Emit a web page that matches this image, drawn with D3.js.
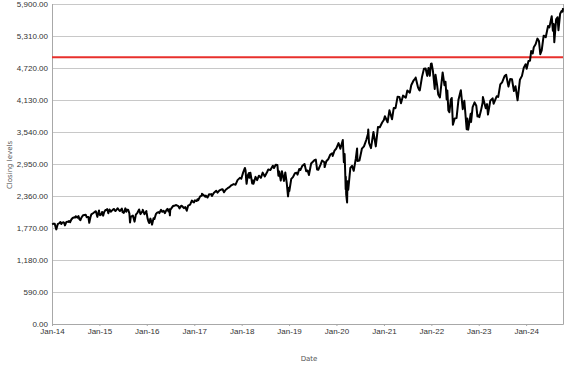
<!DOCTYPE html>
<html lang="en">
<head>
<meta charset="UTF-8" />
<title>Closing levels</title>
<style>
  body { margin: 0; background: #fff; overflow: hidden; }
  svg { display: block; font-family: "DejaVu Sans", Verdana, sans-serif; }
  .grid line { stroke: #c8c8c8; stroke-width: 1px; }
  .axis text { fill: #333; font-size: 8px; }
  .axis-title { fill: #555; font-size: 7px; }
</style>
</head>
<body>
<svg width="577" height="367"></svg>
<script src="https://d3js.org/d3.v7.min.js"></script>
<script>
// Closing levels (roughly 2-4 points a month)
const y2014 = [["01-02",1832],["01-15",1848],["01-22",1844],["01-28",1792],["02-03",1742],["02-14",1838],["02-28",1859],["03-07",1878],["03-14",1841],["03-21",1866],["03-31",1872],["04-04",1865],["04-11",1815],["04-22",1879],["04-30",1884],["05-07",1878],["05-13",1897],["05-20",1872],["05-30",1924],["06-09",1951],["06-20",1963],["06-30",1960],["07-03",1985],["07-17",1958],["07-24",1988],["07-31",1931],["08-07",1910],["08-15",1955],["08-29",2003],["09-18",2011],["09-25",1965],["09-30",1972],["10-08",1968],["10-15",1862],["10-24",1964],["10-31",2018],["11-13",2039],["11-28",2068],["12-05",2075],["12-16",1972],["12-29",2090],["12-31",2059]];
const y2015 = [["01-06",2003],["01-16",2019],["01-22",2063],["01-30",1995],["02-06",2055],["02-17",2100],["02-27",2105],["03-02",2117],["03-11",2040],["03-20",2108],["03-31",2068],["04-15",2106],["04-24",2117],["04-30",2086],["05-06",2080],["05-21",2131],["05-29",2107],["06-08",2080],["06-23",2124],["06-29",2058],["07-08",2046],["07-20",2129],["07-27",2068],["07-31",2104],["08-10",2104],["08-20",2036],["08-25",1868],["08-31",1972],["09-16",1996],["09-29",1884],["10-09",2014],["10-22",2052],["11-03",2109],["11-13",2023],["11-30",2080],["12-01",2102],["12-14",2021],["12-29",2078],["12-31",2044]];
const y2016 = [["01-07",1944],["01-15",1880],["01-20",1859],["01-29",1940],["02-11",1829],["02-22",1946],["02-29",1932],["03-11",2022],["03-21",2051],["03-31",2060],["04-07",2042],["04-20",2102],["04-29",2065],["05-10",2084],["05-19",2040],["05-31",2097],["06-08",2119],["06-16",2071],["06-23",2113],["06-27",2001],["06-30",2099],["07-11",2137],["07-22",2175],["07-29",2174],["08-15",2190],["08-31",2171],["09-09",2128],["09-22",2177],["09-30",2168],["10-13",2133],["10-24",2151],["11-04",2085],["11-15",2180],["11-30",2199],["12-13",2271],["12-30",2239]];
const y2017 = [["01-06",2277],["01-19",2264],["01-26",2297],["01-31",2279],["02-15",2350],["02-28",2364],["03-01",2396],["03-13",2373],["03-27",2342],["03-31",2363],["04-13",2329],["04-25",2389],["04-28",2384],["05-12",2391],["05-17",2357],["05-31",2412],["06-19",2453],["06-29",2419],["07-14",2459],["07-27",2475],["08-07",2480],["08-18",2425],["08-31",2472],["09-15",2500],["09-29",2519],["10-13",2553],["10-31",2575],["11-15",2565],["11-30",2648],["12-18",2690],["12-29",2674]];
const y2018 = [["01-12",2786],["01-26",2873],["01-31",2824],["02-05",2649],["02-08",2581],["02-16",2732],["02-26",2780],["03-02",2691],["03-09",2786],["03-23",2588],["03-29",2641],["04-02",2582],["04-18",2708],["04-30",2648],["05-14",2730],["05-29",2690],["06-12",2787],["06-28",2716],["07-16",2798],["07-25",2846],["08-10",2833],["08-29",2914],["09-07",2872],["09-20",2931],["10-03",2926],["10-11",2729],["10-17",2809],["10-29",2641],["11-07",2814],["11-23",2633],["12-03",2790],["12-14",2600],["12-24",2351],["12-31",2507]];
const y2019 = [["01-03",2448],["01-18",2671],["01-31",2704],["02-15",2776],["02-28",2784],["03-07",2749],["03-21",2855],["03-29",2834],["04-12",2907],["04-30",2946],["05-13",2812],["05-24",2826],["06-03",2744],["06-20",2954],["07-15",3014],["07-26",3026],["08-05",2844],["08-14",2840],["08-30",2926],["09-12",3010],["09-30",2977],["10-02",2888],["10-15",2996],["10-31",3038],["11-15",3120],["11-29",3141],["12-03",3093],["12-17",3192],["12-31",3231]];
const y2020 = [["01-17",3330],["01-31",3226],["02-19",3386],["02-27",2979],["03-04",3130],["03-09",2747],["03-12",2481],["03-13",2711],["03-16",2386],["03-23",2237],["03-26",2630],["04-01",2471],["04-17",2875],["04-30",2912],["05-13",2820],["05-29",3044],["06-08",3232],["06-11",3002],["06-26",3009],["07-15",3227],["07-31",3271],["08-18",3390],["08-31",3500],["09-02",3580],["09-08",3332],["09-23",3237],["10-12",3534],["10-30",3270],["11-16",3627],["11-30",3622],["12-18",3709],["12-31",3756]];
const y2021 = [["01-08",3825],["01-29",3714],["02-12",3934],["03-04",3768],["03-17",3974],["03-31",3973],["04-16",4185],["04-30",4181],["05-12",4063],["05-28",4204],["06-18",4166],["06-30",4298],["07-19",4258],["07-30",4395],["08-16",4479],["08-31",4523],["09-02",4537],["09-20",4358],["09-30",4308],["10-04",4300],["10-21",4549],["11-05",4697],["11-18",4704],["11-30",4567],["12-10",4712],["12-20",4568],["12-29",4793],["12-31",4766]];
const y2022 = [["01-03",4797],["01-13",4659],["01-27",4326],["02-02",4589],["02-14",4401],["02-23",4226],["03-08",4170],["03-29",4632],["04-12",4397],["04-20",4459],["04-29",4132],["05-04",4300],["05-12",3930],["05-20",3901],["05-31",4132],["06-07",4161],["06-16",3667],["06-30",3785],["07-14",3790],["07-29",4130],["08-16",4305],["08-31",3955],["09-12",4110],["09-30",3586],["10-05",3783],["10-12",3577],["10-31",3872],["11-03",3720],["11-15",3992],["11-30",4080],["12-13",4019],["12-22",3822],["12-30",3840]];
const y2023 = [["01-05",3808],["01-18",3928],["01-31",4077],["02-02",4179],["02-24",3970],["03-06",4048],["03-13",3855],["03-31",4109],["04-18",4154],["04-26",4055],["05-19",4192],["05-31",4180],["06-16",4410],["06-30",4450],["07-19",4565],["07-31",4589],["08-18",4370],["08-31",4508],["09-14",4505],["09-29",4288],["10-11",4377],["10-27",4117],["11-14",4496],["11-30",4568],["12-14",4720],["12-28",4783]];
const y2024 = [["01-05",4697],["01-19",4840],["01-31",4846],["02-09",5027],["02-21",4982],["02-29",5096],["03-14",5150],["03-28",5254],["04-09",5209],["04-19",4967],["04-30",5036],["05-15",5308],["05-31",5278],["06-18",5487],["06-28",5460],["07-16",5667],["07-25",5400],["07-31",5522],["08-05",5186],["08-19",5608],["08-30",5648],["09-06",5408],["09-19",5713],["09-30",5762],["10-08",5751],["10-11",5815]];

const years = { 2014: y2014, 2015: y2015, 2016: y2016, 2017: y2017, 2018: y2018, 2019: y2019, 2020: y2020, 2021: y2021, 2022: y2022, 2023: y2023, 2024: y2024 };
const referenceLevel = 4910;
const yTicks = [0, 590, 1180, 1770, 2360, 2950, 3540, 4130, 4720, 5310, 5900];

const parse = d3.timeParse("%Y-%m-%d");
const data = [];
Object.keys(years).forEach(yr => {
  years[yr].forEach(([md, v]) => data.push({ date: parse(`${yr}-${md}`), value: v }));
});

const svg = d3.select("svg");
const plotL = 52, plotR = 563, plotT = 3.5, plotB = 324;

const x = d3.scaleTime()
  .domain([new Date(2014, 0, 1), new Date(2024, 9, 11)])
  .range([plotL, plotR]);
const y = d3.scaleLinear().domain([0, 5900]).range([plotB, plotT]);

// horizontal grid
svg.append("g").attr("class", "grid")
  .selectAll("line").data(yTicks).join("line")
  .attr("x1", plotL).attr("x2", plotR)
  .attr("y1", d => Math.round(y(d)) + 0.5).attr("y2", d => Math.round(y(d)) + 0.5);

// frame: left, right, bottom
svg.append("path")
  .attr("d", `M${plotL + 0.5},${Math.round(plotT)}V${plotB + 0.5}H${plotR + 0.5}V${Math.round(plotT)}`)
  .attr("fill", "none").attr("stroke", "#a8a8a8");

// y axis labels
const yAxis = svg.append("g").attr("class", "axis")
  .attr("transform", `translate(${plotL},0)`)
  .call(d3.axisLeft(y).tickValues(yTicks).tickFormat(d3.format(",.2f")).tickSize(0).tickPadding(4));
yAxis.select(".domain").remove();

// x axis
const xAxis = svg.append("g").attr("class", "axis")
  .attr("transform", `translate(0,${plotB})`)
  .call(d3.axisBottom(x).ticks(d3.timeYear.every(1)).tickFormat(d3.timeFormat("%b-%y")).tickSize(2).tickPadding(2));
xAxis.select(".domain").remove();
xAxis.selectAll(".tick line").attr("stroke", "#a8a8a8");

// reference line
svg.append("line")
  .attr("x1", plotL).attr("x2", plotR)
  .attr("y1", y(referenceLevel)).attr("y2", y(referenceLevel))
  .attr("stroke", "#e8302c").attr("stroke-width", 2);

// series
svg.append("path")
  .datum(data)
  .attr("fill", "none")
  .attr("stroke", "#000")
  .attr("stroke-width", 2)
  .attr("stroke-linejoin", "round")
  .attr("d", d3.line().x(d => x(d.date)).y(d => y(d.value)));

// axis titles
svg.append("text").attr("class", "axis-title")
  .attr("transform", "translate(12,165) rotate(-90)")
  .attr("text-anchor", "middle").text("Closing levels");
svg.append("text").attr("class", "axis-title")
  .attr("x", 309).attr("y", 361)
  .attr("text-anchor", "middle").text("Date");
</script>
</body>
</html>
